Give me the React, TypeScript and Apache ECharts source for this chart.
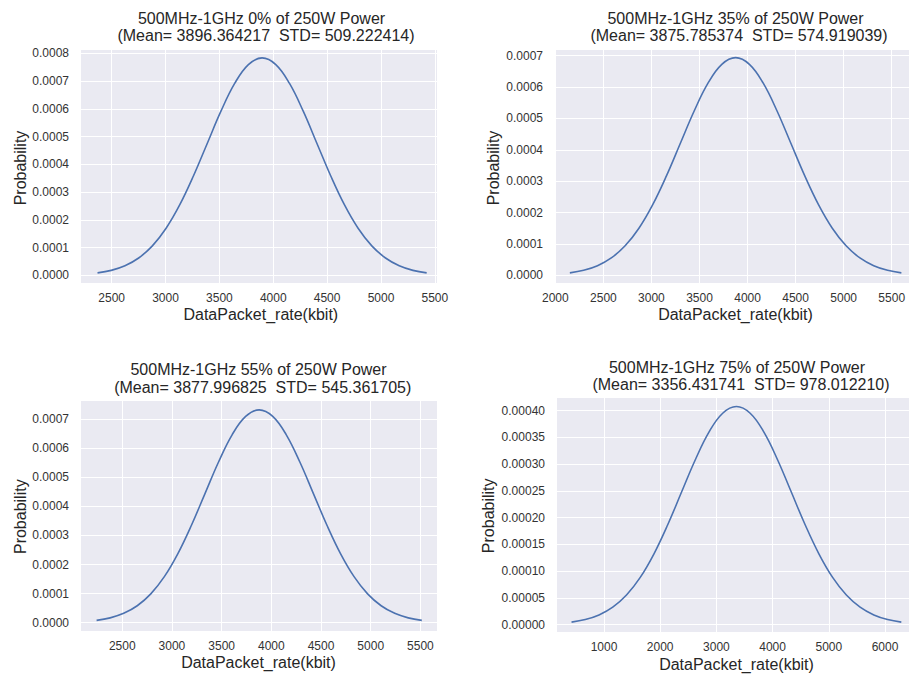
import React, { useEffect, useRef } from "react";
import * as echarts from "echarts";

// ---- data ----
const titles = [
  "500MHz-1GHz 0% of 250W Power",
  "500MHz-1GHz 35% of 250W Power",
  "500MHz-1GHz 55% of 250W Power",
  "500MHz-1GHz 75% of 250W Power",
];
const subtitles = [
  "(Mean= 3896.364217  STD= 509.222414)",
  "(Mean= 3875.785374  STD= 574.919039)",
  "(Mean= 3877.996825  STD= 545.361705)",
  "(Mean= 3356.431741  STD= 978.012210)",
];
const xName = "DataPacket_rate(kbit)";
const yName = "Probability";

const p1X = [2368.7, 2496.0, 2623.3, 2750.6, 2877.9, 3005.2, 3132.5, 3259.8, 3387.1, 3514.4, 3641.8, 3769.1, 3896.4, 4023.7, 4151.0, 4278.3, 4405.6, 4532.9, 4660.2, 4787.5, 4914.8, 5042.1, 5169.4, 5296.7, 5424.0];
const p1Y = [0.0000087, 0.00001785, 0.00003442, 0.00006233, 0.00010603, 0.00016943, 0.00025434, 0.00035868, 0.00047518, 0.00059137, 0.00069139, 0.00075933, 0.00078344, 0.00075933, 0.00069139, 0.00059137, 0.00047518, 0.00035868, 0.00025434, 0.00016943, 0.00010603, 0.00006233, 0.00003442, 0.00001785, 0.0000087];

const p2X = [2151.0, 2294.8, 2438.5, 2582.2, 2726.0, 2869.7, 3013.4, 3157.1, 3300.9, 3444.6, 3588.3, 3732.1, 3875.8, 4019.5, 4163.3, 4307.0, 4450.7, 4594.4, 4738.2, 4881.9, 5025.6, 5169.4, 5313.1, 5456.8, 5600.6];
const p2Y = [0.00000771, 0.00001581, 0.00003049, 0.00005521, 0.00009391, 0.00015007, 0.00022528, 0.00031769, 0.00042088, 0.00052379, 0.00061238, 0.00067256, 0.00069391, 0.00067256, 0.00061238, 0.00052379, 0.00042088, 0.00031769, 0.00022528, 0.00015007, 0.00009391, 0.00005521, 0.00003049, 0.00001581, 0.00000771];

const p3X = [2241.9, 2378.3, 2514.6, 2650.9, 2787.3, 2923.6, 3060.0, 3196.3, 3332.6, 3469.0, 3605.3, 3741.7, 3878.0, 4014.3, 4150.7, 4287.0, 4423.4, 4559.7, 4696.0, 4832.4, 4968.7, 5105.1, 5241.4, 5377.7, 5514.1];
const p3Y = [0.00000813, 0.00001667, 0.00003214, 0.0000582, 0.000099, 0.00015821, 0.00023749, 0.00033491, 0.00044369, 0.00055218, 0.00064557, 0.00070901, 0.00073152, 0.00070901, 0.00064557, 0.00055218, 0.00044369, 0.00033491, 0.00023749, 0.00015821, 0.000099, 0.0000582, 0.00003214, 0.00001667, 0.00000813];

const p4X = [422.4, 666.9, 911.4, 1155.9, 1400.4, 1644.9, 1889.4, 2133.9, 2378.4, 2622.9, 2867.4, 3111.9, 3356.4, 3600.9, 3845.4, 4089.9, 4334.4, 4578.9, 4823.5, 5068.0, 5312.5, 5557.0, 5801.5, 6046.0, 6290.5];
const p4Y = [0.00000453, 0.0000093, 0.00001792, 0.00003245, 0.00005521, 0.00008822, 0.00013243, 0.00018675, 0.00024741, 0.00030791, 0.00035998, 0.00039536, 0.00040791, 0.00039536, 0.00035998, 0.00030791, 0.00024741, 0.00018675, 0.00013243, 0.00008822, 0.00005521, 0.00003245, 0.00001792, 0.0000093, 0.00000453];

const seriesX = [p1X, p2X, p3X, p4X];
const seriesY = [p1Y, p2Y, p3Y, p4Y];

// axis ranges
const xMin = [2206, 1986, 2075, 146];
const xMax = [5520, 5680, 5667, 6427];
const xStep = [500, 500, 500, 1000];
const yMin = [-0.0000277, -0.0000246, -0.0000285, -0.0000139];
const yMax = [0.0008155, 0.0007214, 0.0007653, 0.0004257];
const yStep = [0.0001, 0.0001, 0.0001, 0.00005];
const yDecimals = [4, 4, 4, 5];

// ---- layout ----
const gridBoxes = [
  { left: 80, top: 49, width: 357, height: 234 },
  { left: 554, top: 49, width: 355, height: 234 },
  { left: 80, top: 400, width: 357, height: 231 },
  { left: 556, top: 397, width: 353, height: 235 },
];
const titlePos = [
  { x1: 261.5, y1: 18, x2: 266, y2: 35 },
  { x1: 735.5, y1: 18, x2: 739, y2: 35 },
  { x1: 258.5, y1: 369, x2: 262.7, y2: 387 },
  { x1: 737, y1: 367, x2: 741, y2: 384 },
];
const xNamePos = [
  { x: 260.8, y: 314 },
  { x: 735.5, y: 314 },
  { x: 258.5, y: 662.7 },
  { x: 736.5, y: 664 },
];
const yNamePos = [
  { x: 20, y: 168 },
  { x: 493, y: 168 },
  { x: 20, y: 516.7 },
  { x: 488, y: 515.8 },
];

const FONT = "'Liberation Sans', Arial, sans-serif";
const TEXT = "#262626";
const TICK = "#333333";

function buildOption() {
  const grid = gridBoxes.map((b) => ({
    ...b,
    show: true,
    backgroundColor: "#EAEAF2",
    borderWidth: 0,
    containLabel: false,
  }));
  const xAxis = gridBoxes.map((_, i) => ({
    type: "value",
    gridIndex: i,
    min: xMin[i],
    max: xMax[i],
    minInterval: xStep[i],
    maxInterval: xStep[i],
    splitNumber: Math.round((xMax[i] - xMin[i]) / xStep[i]),
    axisLine: { show: false },
    axisTick: { show: false },
    splitLine: { show: true, lineStyle: { color: "#ffffff", width: 1 } },
    axisLabel: {
      showMinLabel: false,
      showMaxLabel: false,
      margin: 9,
      fontSize: 12,
      color: TICK,
      fontFamily: FONT,
      formatter: (v: number) => String(Math.round(v)),
    },
  }));
  const yAxis = gridBoxes.map((_, i) => ({
    type: "value",
    gridIndex: i,
    min: yMin[i],
    max: yMax[i],
    minInterval: yStep[i],
    maxInterval: yStep[i],
    splitNumber: Math.round((yMax[i] - yMin[i]) / yStep[i]),
    axisLine: { show: false },
    axisTick: { show: false },
    splitLine: { show: true, lineStyle: { color: "#ffffff", width: 1 } },
    axisLabel: {
      showMinLabel: false,
      showMaxLabel: false,
      margin: 11,
      fontSize: 12,
      color: TICK,
      fontFamily: FONT,
      formatter: (v: number) => v.toFixed(yDecimals[i]),
    },
  }));
  const series = seriesX.map((xs, i) => ({
    type: "line",
    xAxisIndex: i,
    yAxisIndex: i,
    data: xs.map((x, k) => [x, seriesY[i][k]]),
    showSymbol: false,
    smooth: 0.4,
    lineStyle: { color: "#4C72B0", width: 1.6 },
    itemStyle: { color: "#4C72B0" },
  }));
  const graphic: any[] = [];
  titles.forEach((t, i) => {
    graphic.push({
      type: "text",
      x: titlePos[i].x1,
      y: titlePos[i].y1,
      style: { text: t, align: "center", verticalAlign: "middle", fontSize: 16, fontFamily: FONT, fill: TEXT },
    });
    graphic.push({
      type: "text",
      x: titlePos[i].x2,
      y: titlePos[i].y2,
      style: { text: subtitles[i], align: "center", verticalAlign: "middle", fontSize: 16, fontFamily: FONT, fill: TEXT },
    });
    graphic.push({
      type: "text",
      x: xNamePos[i].x,
      y: xNamePos[i].y,
      style: { text: xName, align: "center", verticalAlign: "middle", fontSize: 16, fontFamily: FONT, fill: TEXT },
    });
    graphic.push({
      type: "text",
      x: yNamePos[i].x,
      y: yNamePos[i].y,
      rotation: Math.PI / 2,
      style: { text: yName, align: "center", verticalAlign: "middle", fontSize: 16, fontFamily: FONT, fill: TEXT },
    });
  });
  return {
    animation: false,
    backgroundColor: "#ffffff",
    grid,
    xAxis,
    yAxis,
    series,
    graphic,
  };
}

export default function App() {
  const ref = useRef<HTMLDivElement>(null);
  useEffect(() => {
    const chart = echarts.init(ref.current!, undefined, { renderer: "svg" });
    chart.setOption(buildOption() as any);
    return () => chart.dispose();
  }, []);
  return (
    <div
      ref={ref}
      style={{ position: "absolute", left: 0, top: 0, width: 909, height: 675, background: "#fff" }}
    />
  );
}
